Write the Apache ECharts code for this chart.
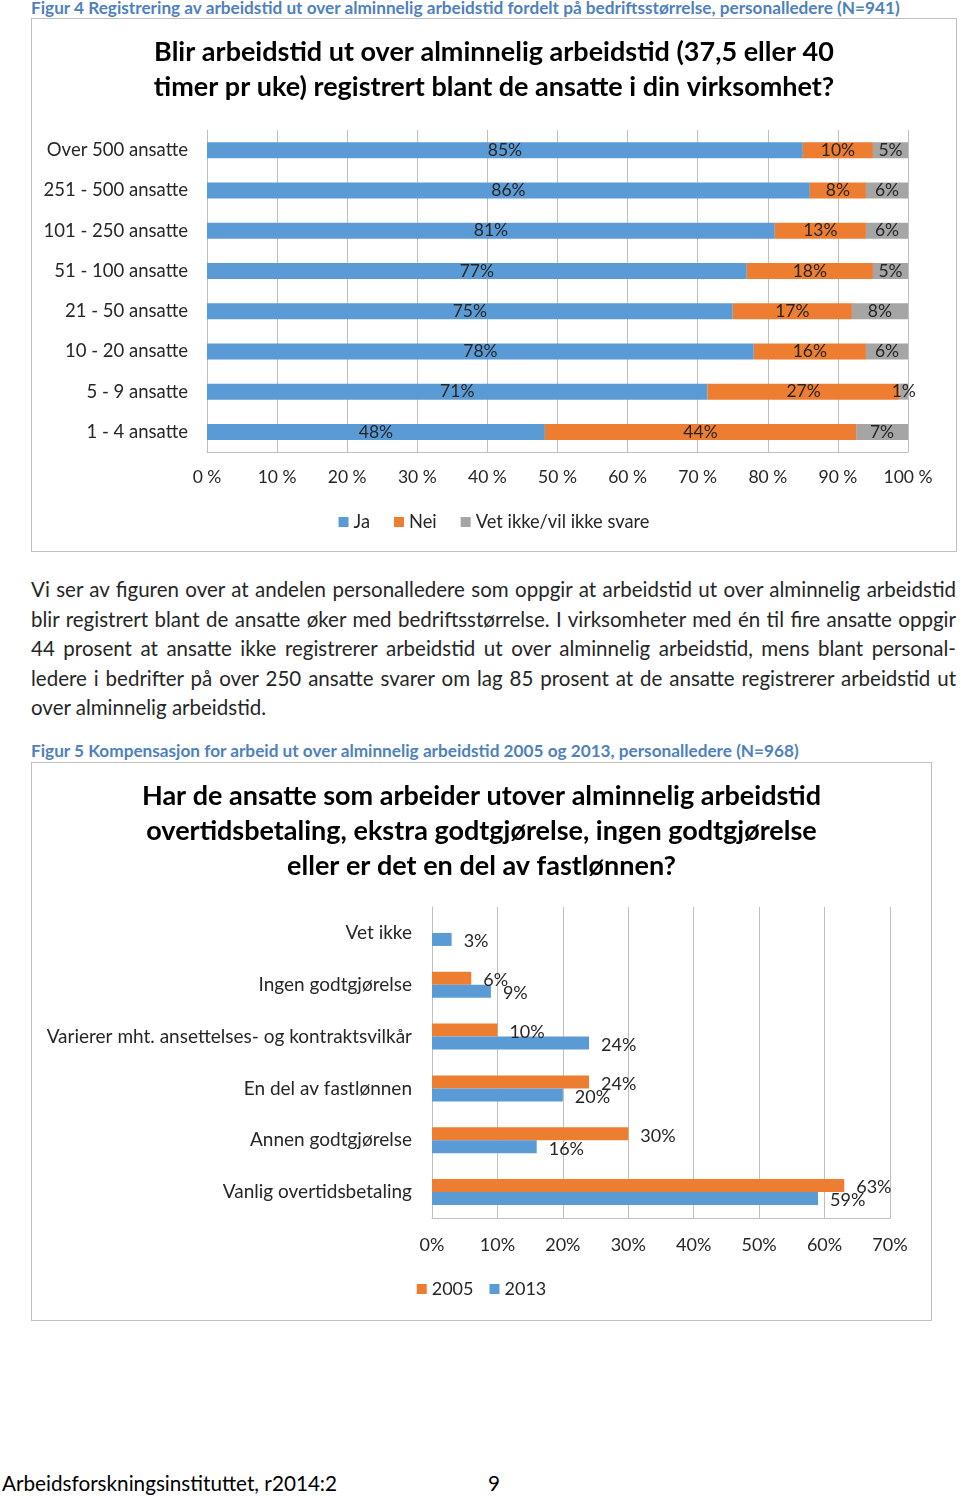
<!DOCTYPE html>
<html><head><meta charset="utf-8">
<script src="https://cdn.jsdelivr.net/npm/echarts@6/dist/echarts.min.js"></script>
<style>
body{margin:0;background:#fff;font-family:Lato,sans-serif;width:960px;height:1497px;position:relative;overflow:hidden}
.cap{position:absolute;left:31px;color:#4f81bd;font-weight:bold;font-size:17.2px;line-height:20px;white-space:nowrap}
.box{position:absolute;border:1px solid #bfbfbf;box-sizing:border-box}
.para{position:absolute;left:31px;width:925px;top:575px;font-size:20.5px;color:#262626}
.para div{height:29.5px;line-height:29.5px;text-align:justify;text-align-last:justify}
.para div.last{text-align:left;text-align-last:left}
.foot{position:absolute;top:1471px;font-size:20.7px;line-height:24px;color:#000;white-space:nowrap}
</style></head>
<body>
<div class="cap" style="top:-2px">Figur 4 Registrering av arbeidstid ut over alminnelig arbeidstid fordelt på bedriftsstørrelse, personalledere (N=941)</div>
<div id="c1" class="box" style="left:31px;top:18px;width:926px;height:534px"></div>
<div class="para">
<div>Vi ser av figuren over at andelen personalledere som oppgir at arbeidstid ut over alminnelig arbeidstid</div>
<div>blir registrert blant de ansatte øker med bedriftsstørrelse. I virksomheter med én til fire ansatte oppgir</div>
<div>44 prosent at ansatte ikke registrerer arbeidstid ut over alminnelig arbeidstid, mens blant personal-</div>
<div>ledere i bedrifter på over 250 ansatte svarer om lag 85 prosent at de ansatte registrerer arbeidstid ut</div>
<div class="last">over alminnelig arbeidstid.</div>
</div>
<div class="cap" style="top:741px">Figur 5 Kompensasjon for arbeid ut over alminnelig arbeidstid 2005 og 2013, personalledere (N=968)</div>
<div id="c2" class="box" style="left:31px;top:762px;width:901px;height:559px"></div>
<div class="foot" style="left:2px">Arbeidsforskningsinstituttet, r2014:2</div>
<div class="foot" style="left:488px">9</div>
<script>
const sizeCategories = ['Over 500 ansatte','251 - 500 ansatte','101 - 250 ansatte','51 - 100 ansatte','21 - 50 ansatte','10 - 20 ansatte','5 - 9 ansatte','1 - 4 ansatte'];
const jaValues = [85,86,81,77,75,78,71.4,48.2];
const neiValues = [10,8,13,18,17,16,27.4,44.4];
const vetIkkeValues = [5,6,6,5,8,6,1.2,7.4];
const chart1Title = 'Blir arbeidstid ut over alminnelig arbeidstid (37,5 eller 40\ntimer pr uke) registrert blant de ansatte i din virksomhet?';

const compCategories = ['Vet ikke','Ingen godtgjørelse','Varierer mht. ansettelses- og kontraktsvilkår','En del av fastlønnen','Annen godtgjørelse','Vanlig overtidsbetaling'];
const values2005 = [null,6,10,24,30,63];
const values2013 = [3,9,24,20,16,59];
const chart2Title = 'Har de ansatte som arbeider utover alminnelig arbeidstid\novertidsbetaling, ekstra godtgjørelse, ingen godtgjørelse\neller er det en del av fastlønnen?';

const FONT = 'Lato';
const TXT = '#262626';
const GRID = '#bfbfbf';
const BLUE = '#5b9bd5', ORANGE = '#ed7d31', GRAY = '#a5a5a5';
const pct = p => Math.round(p.value) + '%';

const c1 = echarts.init(document.getElementById('c1'), null, {renderer:'canvas'});
function stackSeries(name, data, color){
  return {name, type:'bar', stack:'t', data, barWidth:16, itemStyle:{color},
    label:{show:true, position:'inside', formatter:pct, color:TXT, fontFamily:FONT, fontSize:17.5}};
}
c1.setOption({
  animation:false,
  textStyle:{fontFamily:FONT},
  title:{text:chart1Title, left:'center', top:16, padding:0,
    textStyle:{fontFamily:FONT, fontWeight:'bold', fontSize:27, lineHeight:35, color:'#000'}},
  grid:{left:175, right:48, top:111, bottom:99, containLabel:false},
  xAxis:{type:'value', min:0, max:100, interval:10,
    axisLine:{show:true, lineStyle:{color:GRID}}, axisTick:{show:false},
    splitLine:{show:true, lineStyle:{color:GRID}},
    axisLabel:{formatter:'{value} %', color:TXT, fontFamily:FONT, fontSize:17.5, margin:16}},
  yAxis:{type:'category', inverse:true, data:sizeCategories,
    axisLine:{show:true, lineStyle:{color:GRID}}, axisTick:{show:false},
    axisLabel:{color:TXT, fontFamily:FONT, fontSize:18.5, margin:19}},
  legend:{data:['Ja','Nei','Vet ikke/vil ikke svare'], top:489, left:'center', icon:'rect',
    itemWidth:10, itemHeight:10, itemGap:24,
    textStyle:{color:TXT, fontFamily:FONT, fontSize:18.3}},
  series:[stackSeries('Ja', jaValues, BLUE), stackSeries('Nei', neiValues, ORANGE), stackSeries('Vet ikke/vil ikke svare', vetIkkeValues, GRAY)]
});

const c2 = echarts.init(document.getElementById('c2'), null, {renderer:'canvas'});
function barSeries(name, data, color){
  return {name, type:'bar', data, barWidth:13, barGap:'0%', itemStyle:{color},
    label:{show:true, position:'right', distance:12, offset:[0,2], formatter:pct, color:TXT, fontFamily:FONT, fontSize:18}};
}
c2.setOption({
  animation:false,
  textStyle:{fontFamily:FONT},
  title:{text:chart2Title, left:'center', top:16, padding:0,
    textStyle:{fontFamily:FONT, fontWeight:'bold', fontSize:27, lineHeight:35, color:'#000'}},
  grid:{left:400, right:41, top:144, bottom:102, containLabel:false},
  xAxis:{type:'value', min:0, max:70, interval:10,
    axisLine:{show:true, lineStyle:{color:GRID}}, axisTick:{show:false},
    splitLine:{show:true, lineStyle:{color:GRID}},
    axisLabel:{formatter:'{value}%', color:TXT, fontFamily:FONT, fontSize:18, margin:18}},
  yAxis:{type:'category', inverse:true, data:compCategories,
    axisLine:{show:true, lineStyle:{color:GRID}}, axisTick:{show:false},
    axisLabel:{color:TXT, fontFamily:FONT, fontSize:19, margin:20}},
  legend:{data:['2005','2013'], top:512, left:'center', icon:'rect',
    itemWidth:10, itemHeight:10, itemGap:16,
    textStyle:{color:TXT, fontFamily:FONT, fontSize:18}},
  series:[barSeries('2005', values2005, ORANGE), barSeries('2013', values2013, BLUE)]
});
</script>
</body></html>
